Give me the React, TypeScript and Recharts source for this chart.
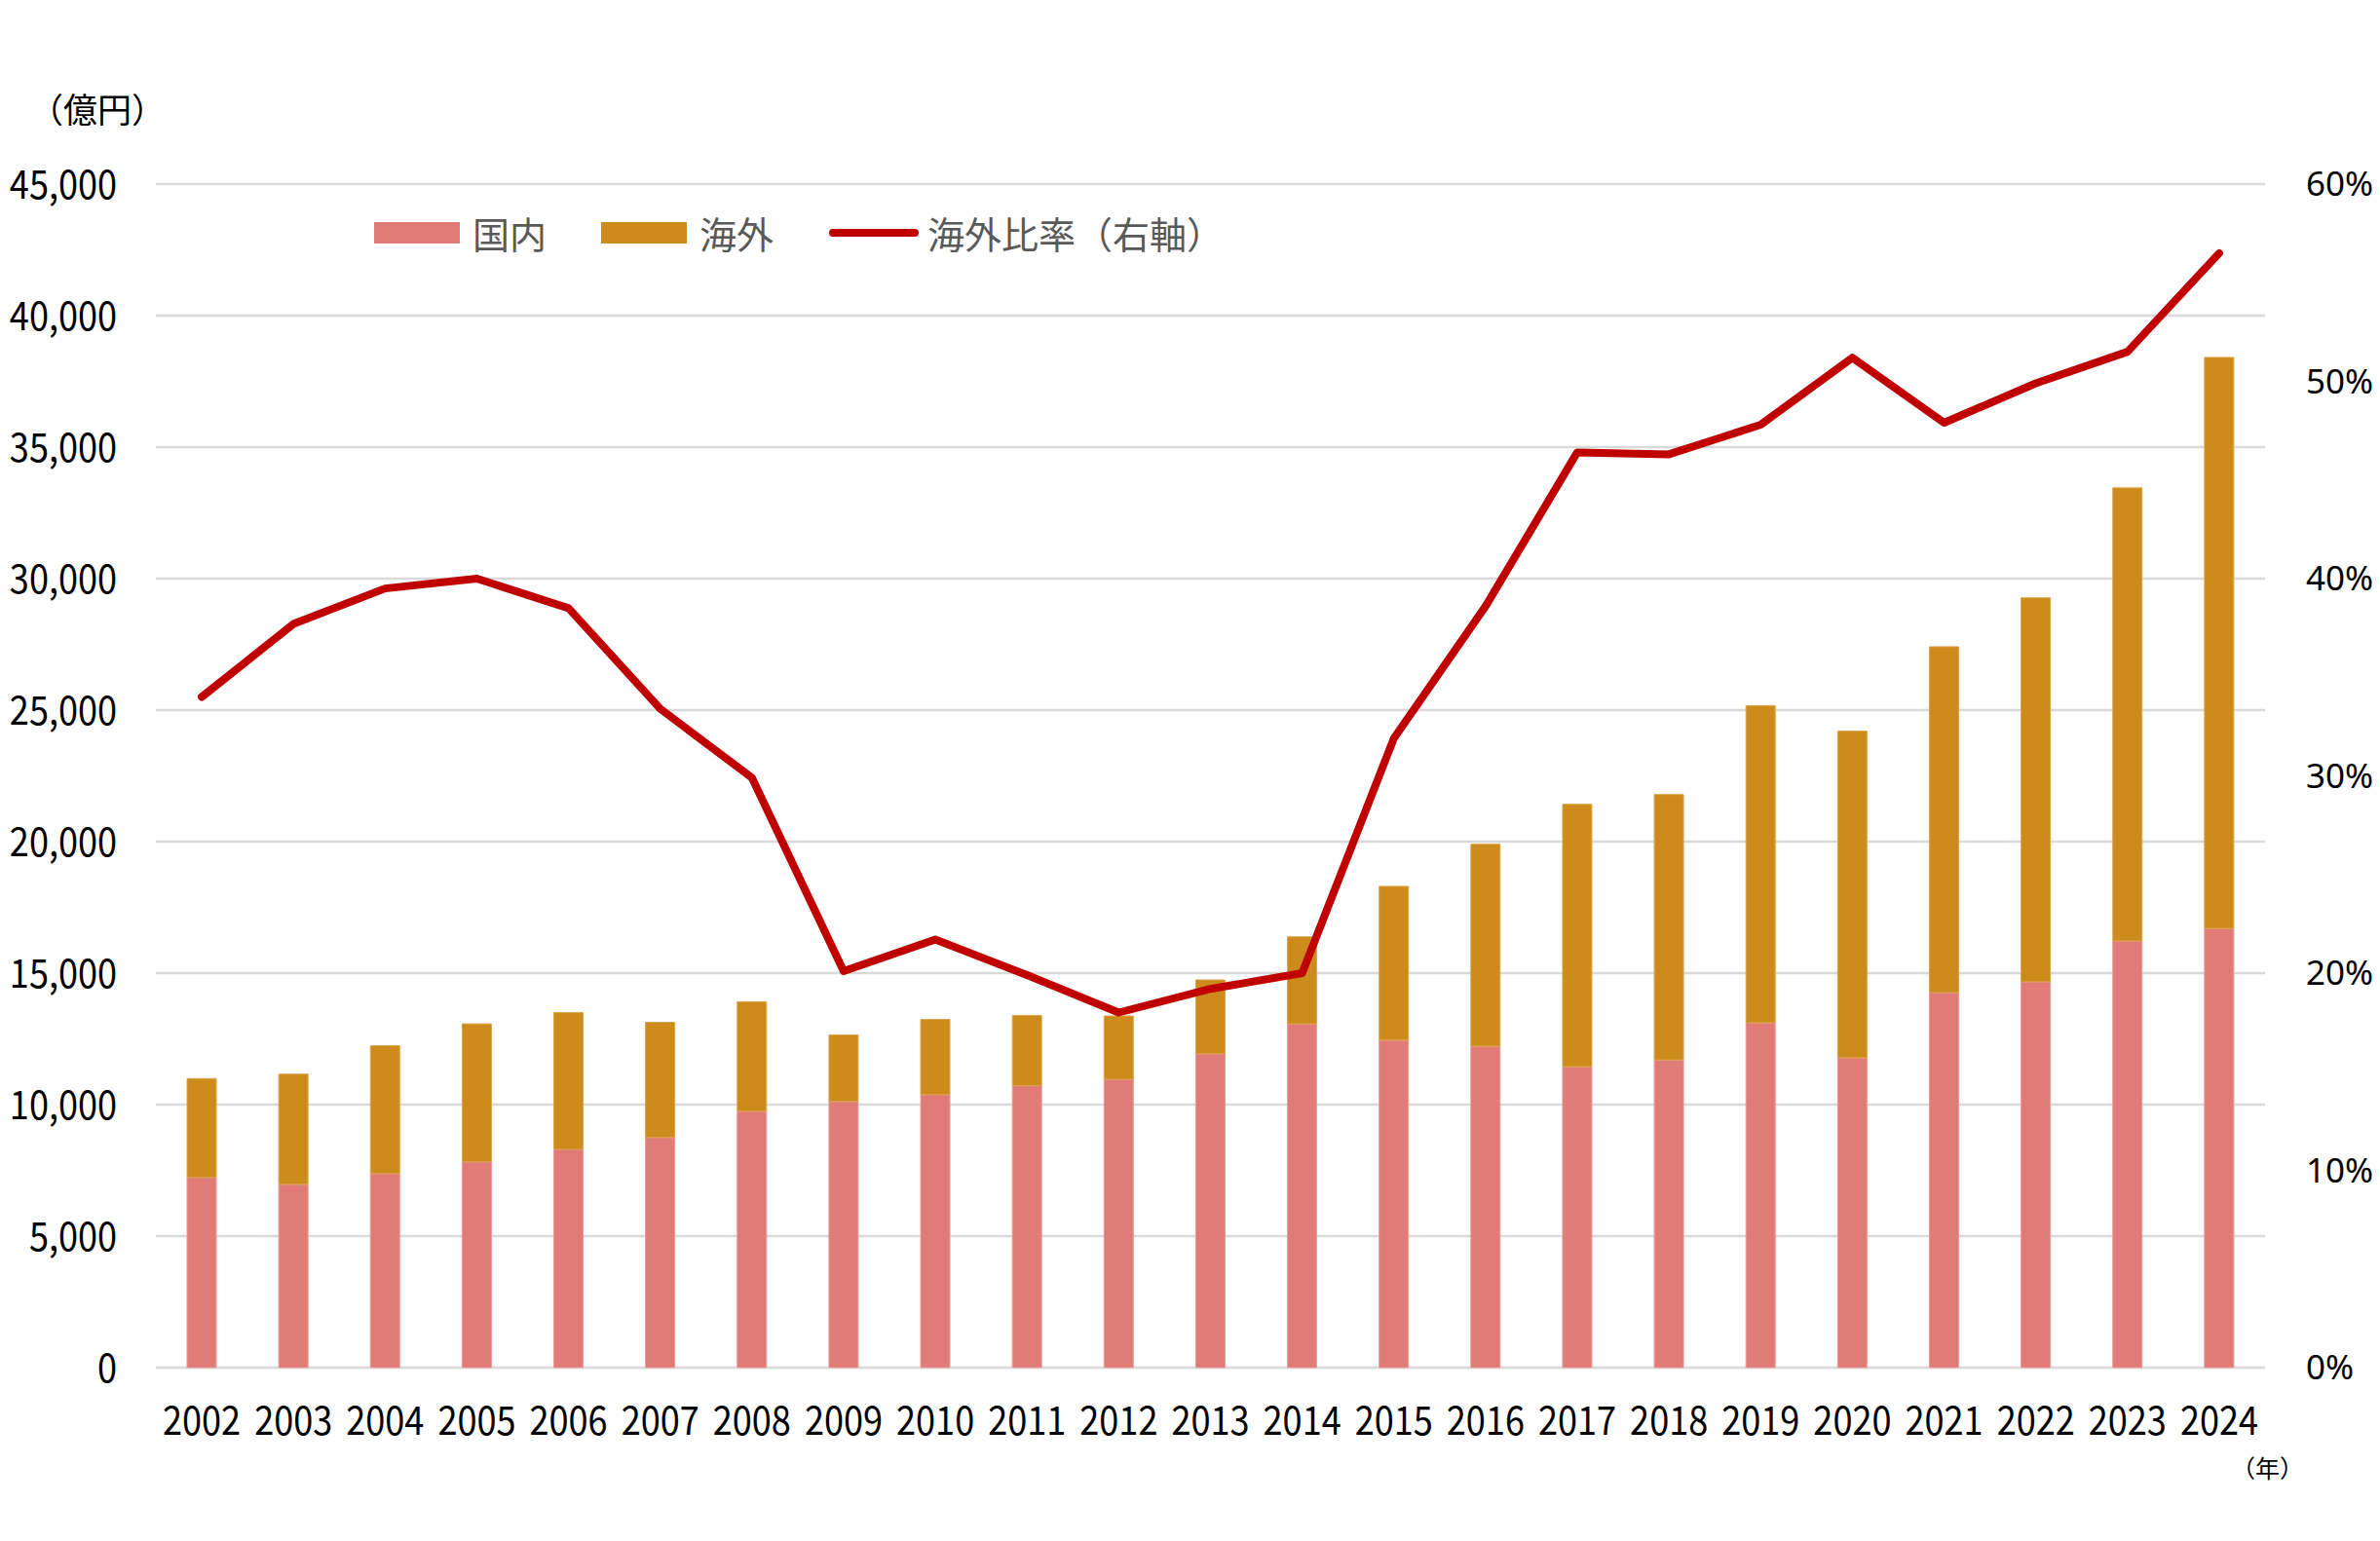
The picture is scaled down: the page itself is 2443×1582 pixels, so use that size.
import { ComposedChart, Bar, Line, XAxis, YAxis, CartesianGrid } from 'recharts';

// 売上高の推移（国内・海外）と海外比率
const years = [
  '2002', '2003', '2004', '2005', '2006', '2007', '2008', '2009', '2010', '2011', '2012', '2013',
  '2014', '2015', '2016', '2017', '2018', '2019', '2020', '2021', '2022', '2023', '2024',
];

// 億円
const domestic = [
  7230, 6970, 7380, 7820, 8300, 8750, 9750, 10120, 10380, 10720, 10960, 11930,
  13070, 12450, 12220, 11440, 11700, 13110, 11780, 14260, 14670, 16220, 16700,
];
const overseas = [
  3760, 4190, 4860, 5250, 5200, 4380, 4160, 2530, 2860, 2670, 2410, 2810,
  3310, 5850, 7680, 9980, 10090, 12060, 12420, 13150, 14600, 17230, 21710,
];

// %
const overseasRatio = [
  34.0, 37.7, 39.5, 40.0, 38.5, 33.4, 29.9, 20.1, 21.7, 19.9, 18.0, 19.2,
  20.0, 31.9, 38.6, 46.4, 46.3, 47.8, 51.2, 47.9, 49.9, 51.5, 56.5,
];

const leftTicks = [0, 5000, 10000, 15000, 20000, 25000, 30000, 35000, 40000, 45000];
const rightTicks = [0, 10, 20, 30, 40, 50, 60];

const legendItems = [
  { label: '国内', color: '#E07B78', kind: 'bar' },
  { label: '海外', color: '#CC8B1A', kind: 'bar' },
  { label: '海外比率（右軸）', color: '#C00000', kind: 'line' },
];

const NUM_FONT = "'Noto Sans CJK JP', 'Noto Sans', sans-serif";
const PCT_FONT = "'Noto Sans', 'Noto Sans CJK JP', sans-serif";
const JP_FONT = "'Noto Sans CJK JP', sans-serif";

const data = years.map((year, i) => ({
  year,
  domestic: domestic[i],
  overseas: overseas[i],
  ratio: overseasRatio[i],
}));

// narrow numeric labels: the glyphs are squeezed horizontally around the anchor point
function NarrowTick(props: any) {
  const { x, y, payload, anchor, dy, format } = props;
  const text = format ? format(payload.value) : payload.value;
  return (
    <g transform={`translate(${x},${y})`}>
      <text
        transform="scale(0.88,1)"
        textAnchor={anchor}
        dy={dy}
        fontFamily={NUM_FONT}
        fontSize={41}
        fill="#000"
      >
        {text}
      </text>
    </g>
  );
}

function ChartLegend() {
  return (
    <div
      style={{
        position: 'absolute',
        left: 384,
        top: 217,
        display: 'flex',
        alignItems: 'center',
        fontFamily: JP_FONT,
        fontSize: 38,
        lineHeight: '44px',
        color: '#595959',
        whiteSpace: 'nowrap',
      }}
    >
      {legendItems.map((item) => (
        <div key={item.label} style={{ display: 'flex', alignItems: 'center', marginRight: 56 }}>
          {item.kind === 'bar' ? (
            <span style={{ display: 'inline-block', width: 88, height: 22, background: item.color }} />
          ) : (
            <svg width={94} height={12} style={{ display: 'block' }}>
              <line x1={5} y1={6} x2={89} y2={6} stroke={item.color} strokeWidth={8} strokeLinecap="round" />
            </svg>
          )}
          <span style={{ marginLeft: item.kind === 'bar' ? 13 : 8 }}>{item.label}</span>
        </div>
      ))}
    </div>
  );
}

export default function App() {
  return (
    <div style={{ position: 'absolute', left: 0, top: 0, width: 2443, height: 1582, background: '#fff' }}>
      <div
        style={{
          position: 'absolute',
          left: 30,
          top: 93,
          fontFamily: JP_FONT,
          fontSize: 35,
          lineHeight: 1,
          color: '#000',
        }}
      >
        （億円）
      </div>

      <ChartLegend />

      <ComposedChart
        width={2443}
        height={1582}
        data={data}
        margin={{ top: 189, right: 0, left: 0, bottom: 88 }}
      >
        <CartesianGrid yAxisId="left" vertical={false} stroke="#D9D9D9" strokeWidth={2.5} />
        <XAxis
          dataKey="year"
          axisLine={false}
          tickLine={false}
          tickSize={0}
          tickMargin={39}
          height={90}
          interval={0}
          tick={<NarrowTick anchor="middle" dy="0.74em" />}
        />
        <YAxis
          yAxisId="left"
          width={160}
          domain={[0, 45000]}
          ticks={leftTicks}
          axisLine={false}
          tickLine={false}
          tickSize={0}
          tickMargin={40}
          tick={
            <NarrowTick
              anchor="end"
              dy="0.36em"
              format={(v: number) => v.toLocaleString('en-US')}
            />
          }
        />
        <YAxis
          yAxisId="right"
          orientation="right"
          width={118}
          domain={[0, 60]}
          ticks={rightTicks}
          axisLine={false}
          tickLine={false}
          tickSize={0}
          tickMargin={42}
          tickFormatter={(v: number) => `${v}%`}
          tick={{ fontFamily: PCT_FONT, fontSize: 35, fill: '#000', textAnchor: 'start' }}
        />
        <Bar
          yAxisId="left"
          dataKey="domestic"
          stackId="sales"
          barSize={30}
          fill="#E07B78"
          stroke="#EA9A95"
          strokeWidth={1}
          isAnimationActive={false}
        />
        <Bar
          yAxisId="left"
          dataKey="overseas"
          stackId="sales"
          barSize={30}
          fill="#CC8B1A"
          stroke="#DCA44C"
          strokeWidth={1}
          isAnimationActive={false}
        />
        <Line
          yAxisId="right"
          type="linear"
          dataKey="ratio"
          stroke="#C00000"
          strokeWidth={8}
          strokeLinecap="round"
          strokeLinejoin="round"
          dot={false}
          activeDot={false}
          isAnimationActive={false}
        />
      </ComposedChart>

      <div
        style={{
          position: 'absolute',
          left: 2290,
          top: 1494,
          fontFamily: JP_FONT,
          fontSize: 25,
          lineHeight: 1,
          color: '#000',
        }}
      >
        （年）
      </div>
    </div>
  );
}
